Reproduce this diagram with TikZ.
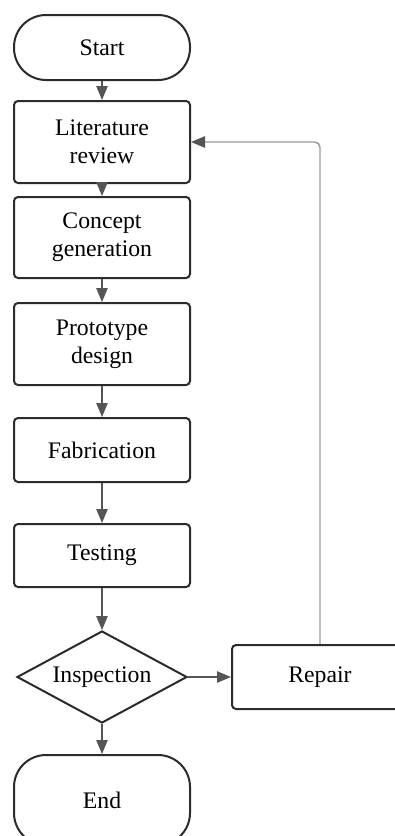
\documentclass[tikz,border=0pt]{standalone}
\usepackage{fontspec}
\setmainfont{Liberation Serif}
\usetikzlibrary{shapes.geometric, arrows.meta}
\definecolor{boxc}{HTML}{2B2B2B}
\definecolor{arrc}{HTML}{555555}
\definecolor{fbc}{HTML}{9A9A9A}
\begin{document}
\begin{tikzpicture}[x=0.75pt,y=-0.75pt,
  box/.style={draw=boxc, line width=1.5pt, rounded corners=3pt, minimum width=132pt,
    align=center, inner sep=0pt, font=\fontsize{17.8}{21}\selectfont},
  term/.style={box, rounded corners=24pt},
  arr/.style={draw=arrc, line width=1.1pt, -{Triangle[length=10.5pt,width=8.5pt]}},
  fb/.style={draw=fbc, line width=1.1pt, rounded corners=4pt,
    -{Triangle[length=10.5pt,width=8.5pt,color=arrc]}}]
\useasboundingbox (0,0) rectangle (395,836);
\clip (0,0) rectangle (395,836);
\fill[white] (0,0) rectangle (395,836);
\node[term, minimum height=48.75pt] (start) at (102,47.5) {Start};
\node[box, minimum height=61.5pt] (lit) at (102,142) {Literature\\review};
\node[box, minimum height=60.75pt] (con) at (102,237.5) {Concept\\generation};
\node[box, minimum height=61.5pt] (pro) at (102,344) {Prototype\\design};
\node[box, minimum height=48pt] (fab) at (102,450) {Fabrication};
\node[box, minimum height=47.25pt] (tes) at (102,555.5) {Testing};
\node[draw=boxc, line width=1.5pt, shape=diamond, aspect=1.85, inner sep=0pt,
  minimum width=127.5pt, minimum height=69pt, font=\fontsize{17.8}{21}\selectfont]
  (ins) at (102,677) {Inspection};
\node[box, minimum height=48pt] (rep) at (320,677) {Repair};
\node[term, minimum height=67.5pt] (end) at (102,800) {End};
\draw[arr] (start) -- (lit);
\draw[arr] (lit) -- (con);
\draw[arr] (con) -- (pro);
\draw[arr] (pro) -- (fab);
\draw[arr] (fab) -- (tes);
\draw[arr] (tes) -- (ins);
\draw[arr] (ins) -- (end);
\draw[arr] (ins) -- (rep);
\draw[fb] (rep.north) |- (lit.east);
\end{tikzpicture}
\end{document}
